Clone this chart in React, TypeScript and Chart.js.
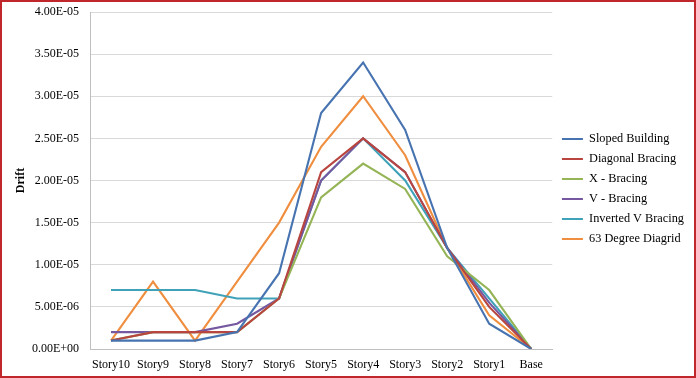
import React, { useEffect, useRef } from "react";
import { Chart, registerables } from "chart.js";

Chart.register(...registerables);

const categories = ["Story10", "Story9", "Story8", "Story7", "Story6", "Story5", "Story4", "Story3", "Story2", "Story1", "Base"];

const slopedBuilding = [1e-6, 1e-6, 1e-6, 2e-6, 9e-6, 2.8e-5, 3.4e-5, 2.6e-5, 1.2e-5, 3e-6, 0];
const diagonalBracing = [1e-6, 2e-6, 2e-6, 2e-6, 6e-6, 2.1e-5, 2.5e-5, 2.1e-5, 1.2e-5, 5e-6, 0];
const xBracing = [1e-6, 2e-6, 2e-6, 2e-6, 6e-6, 1.8e-5, 2.2e-5, 1.9e-5, 1.1e-5, 7e-6, 0];
const vBracing = [2e-6, 2e-6, 2e-6, 3e-6, 6e-6, 2.0e-5, 2.5e-5, 2.1e-5, 1.2e-5, 5.5e-6, 0];
const invertedVBracing = [7e-6, 7e-6, 7e-6, 6e-6, 6e-6, 2.0e-5, 2.5e-5, 2.0e-5, 1.2e-5, 6e-6, 0];
const diagrid63 = [1e-6, 8e-6, 1e-6, 8e-6, 1.5e-5, 2.4e-5, 3.0e-5, 2.3e-5, 1.2e-5, 4e-6, 0];

const seriesNames = ["Sloped Building", "Diagonal Bracing", "X - Bracing", "V - Bracing", "Inverted V Bracing", "63 Degree Diagrid"];
const seriesColors = ["#4774b0", "#b8453f", "#94b455", "#7558a0", "#40a2b9", "#f08e3f"];
const seriesValues = [slopedBuilding, diagonalBracing, xBracing, vBracing, invertedVBracing, diagrid63];

const FONT = "'Liberation Serif', 'Times New Roman', serif";
const LEGEND_GAP = 2;
const LEGEND_SHIFT_UP = 5;

const legendGapPlugin = {
  id: "legendGap",
  beforeLayout(chart: any) {
    const lg = chart.legend;
    if (lg && !lg.__gapPatched) {
      const orig = lg.fit.bind(lg);
      lg.fit = function () {
        orig();
        this.width += LEGEND_GAP;
      };
      lg.__gapPatched = true;
    }
  },
  afterLayout(chart: any) {
    const lg = chart.legend;
    if (lg) {
      lg.left += LEGEND_GAP;
      lg.top -= LEGEND_SHIFT_UP;
      lg.bottom -= LEGEND_SHIFT_UP;
    }
  },
};

export default function App() {
  const ref = useRef<HTMLCanvasElement | null>(null);
  useEffect(() => {
    document.body.style.margin = "0";
    const ctx = ref.current!;
    const chart = new Chart(ctx, {
      type: "line",
      data: {
        labels: categories,
        datasets: seriesNames.map((name, i) => ({
          label: name,
          data: seriesValues[i],
          borderColor: seriesColors[i],
          backgroundColor: seriesColors[i],
          borderWidth: 2.1,
          pointRadius: 0,
          tension: 0,
          fill: false,
        })),
      },
      plugins: [legendGapPlugin],
      options: {
        animation: false,
        responsive: false,
        maintainAspectRatio: false,
        layout: { padding: { left: 0, top: 10, bottom: 0, right: 0 } },
        plugins: {
          legend: {
            position: "right",
            labels: {
              usePointStyle: true,
              pointStyle: "line",
              pointStyleWidth: 21,
              boxWidth: 21,
              padding: 7.7,
              color: "#000",
              font: { family: FONT, size: 12.3 },
            },
          },
          tooltip: { enabled: false },
        },
        scales: {
          x: {
            offset: true,
            grid: { display: false, drawTicks: false },
            border: { display: true, color: "#bfbfbf", width: 1 },
            ticks: { color: "#000", font: { family: FONT, size: 12 }, padding: 8.5, maxRotation: 0, autoSkip: false },
            afterFit: (scale: any) => {
              scale.height = 27;
              scale.paddingLeft = 0;
              scale.paddingRight = 0;
            },
          },
          y: {
            position: "left",
            min: 0,
            max: 4e-5,
            grid: { color: "#d9d9d9", drawTicks: false, lineWidth: 1 },
            border: { display: true, color: "#bfbfbf", width: 1 },
            ticks: {
              stepSize: 5e-6,
              color: "#000",
              padding: 11,
              font: { family: FONT, size: 12 },
              callback: (v: any) => Number(v).toExponential(2).replace(/e([+-])(\d)$/, "E$10$2").replace("e", "E"),
            },
            title: {
              display: true,
              text: "Drift",
              color: "#000",
              font: { family: FONT, size: 12, weight: "bold" },
              padding: { top: 12, bottom: 0 },
            },
            afterFit: (scale: any) => {
              scale.width = 88;
              scale.paddingTop = 0;
              scale.paddingBottom = 0;
            },
          },
        },
      },
    });
    return () => chart.destroy();
  }, []);
  return (
    <div
      style={{
        position: "absolute",
        left: 0,
        top: 0,
        width: 696,
        height: 378,
        boxSizing: "border-box",
        border: "2px solid #c0272d",
        background: "#fff",
      }}
    >
      <canvas ref={ref} width={692} height={374} style={{ display: "block" }} />
    </div>
  );
}
